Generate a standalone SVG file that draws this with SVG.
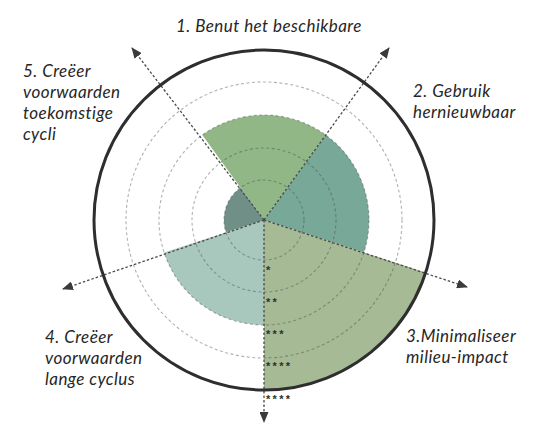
<svg xmlns="http://www.w3.org/2000/svg" width="544" height="424" viewBox="0 0 544 424">
  <style>
    .lbl { font-family: Lato, "Open Sans", sans-serif; font-style: italic; font-size: 17px; letter-spacing: 0.45px; fill: #262626; }
    .ring { fill: none; stroke: rgba(70,70,70,0.42); stroke-width: 1.1; stroke-dasharray: 3 2.5; }
    .axis { fill: none; stroke: #4a4a4a; stroke-width: 1.3; stroke-dasharray: 2.5 2; marker-end: url(#arrow); }
    .stars { font-family: "Liberation Sans", Arial, sans-serif; font-weight: bold; font-size: 11px; fill: #2a332b; letter-spacing: 2.3px; }
  </style>
  <defs>
    <marker id="arrow" markerUnits="userSpaceOnUse" markerWidth="11" markerHeight="9" refX="10" refY="4.5" orient="auto">
      <path d="M0,0 L11,4.5 L0,9 Z" fill="#3a3a3a"/>
    </marker>
  </defs>
  <rect width="544" height="424" fill="#ffffff"/>

  <g id="sector-1">
    <path d="M264,220 L202.28,135.05 A105,105 0 0 1 325.72,135.05 Z" fill="#91b786"/>
    <text class="lbl" x="176" y="32">1. Benut het beschikbare</text>
  </g>
  <g id="sector-2">
    <path d="M264,220 L325.72,135.05 A105,105 0 0 1 363.86,252.45 Z" fill="#78a897"/>
    <text class="lbl" x="413" y="97">2. Gebruik</text>
    <text class="lbl" x="413" y="118">hernieuwbaar</text>
  </g>
  <g id="sector-3">
    <path d="M264,220 L425.69,272.53 A170,170 0 0 1 264,390 Z" fill="#a6ba95"/>
    <text class="lbl" x="406" y="342">3.Minimaliseer</text>
    <text class="lbl" x="406" y="363">milieu-impact</text>
  </g>
  <g id="sector-4">
    <path d="M264,220 L264,325 A105,105 0 0 1 164.14,252.45 Z" fill="#a9c8bd"/>
    <text class="lbl" x="45" y="343">4. Creëer</text>
    <text class="lbl" x="45" y="364">voorwaarden</text>
    <text class="lbl" x="45" y="385">lange cyclus</text>
  </g>
  <g id="sector-5">
    <path d="M264,220 L225.96,232.36 A40,40 0 0 1 240.49,187.64 Z" fill="#6f8f87"/>
    <text class="lbl" x="23" y="77">5. Creëer</text>
    <text class="lbl" x="23" y="98">voorwaarden</text>
    <text class="lbl" x="23" y="119">toekomstige</text>
    <text class="lbl" x="23" y="140">cycli</text>
  </g>

  <g id="grid">
    <circle class="ring" cx="264" cy="220" r="40"/>
    <circle class="ring" cx="264" cy="220" r="72"/>
    <circle class="ring" cx="264" cy="220" r="105"/>
    <circle class="ring" cx="264" cy="220" r="138"/>
  </g>

  <g id="connectors">
    <line class="axis" x1="264" y1="220" x2="389" y2="48"/>
    <line class="axis" x1="264" y1="220" x2="467" y2="287"/>
    <line class="axis" x1="264" y1="220" x2="264" y2="422"/>
    <line class="axis" x1="264" y1="220" x2="63" y2="289"/>
    <line class="axis" x1="264" y1="220" x2="132" y2="48"/>
  </g>

  <g id="outer">
    <circle cx="264" cy="220" r="170" fill="none" stroke="#2e2e2e" stroke-width="3"/>
  </g>

  <g id="scale">
    <text class="stars" x="266" y="274">*</text>
    <text class="stars" x="266" y="306">**</text>
    <text class="stars" x="266" y="338">***</text>
    <text class="stars" x="266" y="370">****</text>
    <text class="stars" x="266" y="403">****</text>
  </g>
</svg>
